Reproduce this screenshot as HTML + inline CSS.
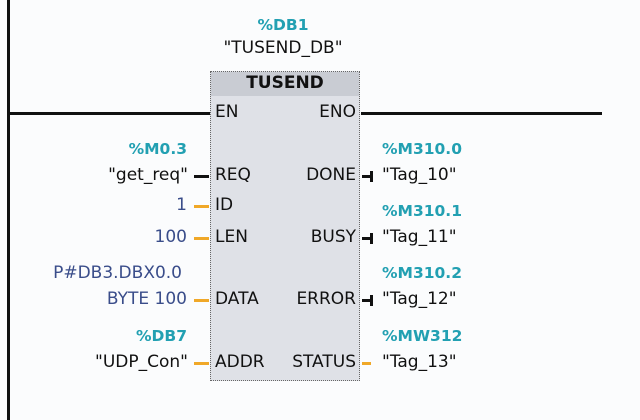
<!DOCTYPE html>
<html><head><meta charset="utf-8"><style>
body{margin:0;width:640px;height:420px;background:#fbfcfd;position:relative;overflow:hidden;font-family:"DejaVu Sans","Liberation Sans",sans-serif;}
.a{position:absolute;white-space:nowrap;font-size:17px;line-height:20px;color:#111;}
.t{color:#22a0b2;font-weight:bold;font-size:15.5px;}
.b{color:#3a4d8a;}
.r{text-align:right;}
.l{position:absolute;background:#111;}
.o{position:absolute;background:#f0a828;height:3px;}
</style></head><body>
<div class="l" style="left:7px;top:0;width:3px;height:420px"></div>
<div class="l" style="left:8px;top:112px;width:202px;height:3px"></div>
<div class="l" style="left:361px;top:112px;width:241px;height:3px"></div>
<div style="position:absolute;left:210px;top:71px;width:150px;height:310px;background:#dfe1e7;border:1px dotted #666;box-sizing:border-box"></div>
<div style="position:absolute;left:211px;top:72px;width:148px;height:24px;background:#c9ccd3"></div>
<div class="a" style="left:210px;width:150px;text-align:center;top:73px;font-weight:bold">TUSEND</div>
<div class="a t" style="left:230px;width:106px;text-align:center;top:15px">%DB1</div>
<div class="a" style="left:190px;width:186px;text-align:center;top:38px">"TUSEND_DB"</div>
<div class="a" style="left:215px;top:102px">EN</div>
<div class="a r" style="left:290px;width:66px;top:102px">ENO</div>
<div class="a" style="left:215px;top:165px">REQ</div>
<div class="a" style="left:215px;top:195px">ID</div>
<div class="a" style="left:215px;top:227px">LEN</div>
<div class="a" style="left:215px;top:289px">DATA</div>
<div class="a" style="left:215px;top:352px">ADDR</div>
<div class="a r" style="left:260px;width:96px;top:165px">DONE</div>
<div class="a r" style="left:260px;width:96px;top:227px">BUSY</div>
<div class="a r" style="left:260px;width:96px;top:289px">ERROR</div>
<div class="a r" style="left:260px;width:96px;top:352px">STATUS</div>
<div class="l" style="left:194px;top:175px;width:15px;height:3px"></div>
<div class="o" style="left:194px;top:205px;width:15px"></div>
<div class="o" style="left:194px;top:237px;width:15px"></div>
<div class="o" style="left:194px;top:299px;width:15px"></div>
<div class="o" style="left:194px;top:362px;width:15px"></div>
<div class="l" style="left:362px;top:175px;width:10px;height:3px"></div><div class="l" style="left:370px;top:171px;width:3px;height:11px"></div>
<div class="l" style="left:362px;top:237px;width:10px;height:3px"></div><div class="l" style="left:370px;top:233px;width:3px;height:11px"></div>
<div class="l" style="left:362px;top:299px;width:10px;height:3px"></div><div class="l" style="left:370px;top:295px;width:3px;height:11px"></div>
<div class="o" style="left:362px;top:362px;width:9px"></div>
<div class="a t r" style="left:40px;width:147px;top:139px">%M0.3</div>
<div class="a r" style="left:40px;width:148px;top:165px">"get_req"</div>
<div class="a b r" style="left:40px;width:147px;top:195px">1</div>
<div class="a b r" style="left:40px;width:147px;top:227px">100</div>
<div class="a b r" style="left:20px;width:162px;top:263px">P#DB3.DBX0.0</div>
<div class="a b r" style="left:40px;width:147px;top:289px">BYTE 100</div>
<div class="a t r" style="left:40px;width:147px;top:326px">%DB7</div>
<div class="a r" style="left:40px;width:148px;top:352px">"UDP_Con"</div>
<div class="a t" style="left:382px;top:139px">%M310.0</div>
<div class="a" style="left:382px;top:165px">"Tag_10"</div>
<div class="a t" style="left:382px;top:201px">%M310.1</div>
<div class="a" style="left:382px;top:227px">"Tag_11"</div>
<div class="a t" style="left:382px;top:263px">%M310.2</div>
<div class="a" style="left:382px;top:289px">"Tag_12"</div>
<div class="a t" style="left:382px;top:326px">%MW312</div>
<div class="a" style="left:382px;top:352px">"Tag_13"</div>
</body></html>
